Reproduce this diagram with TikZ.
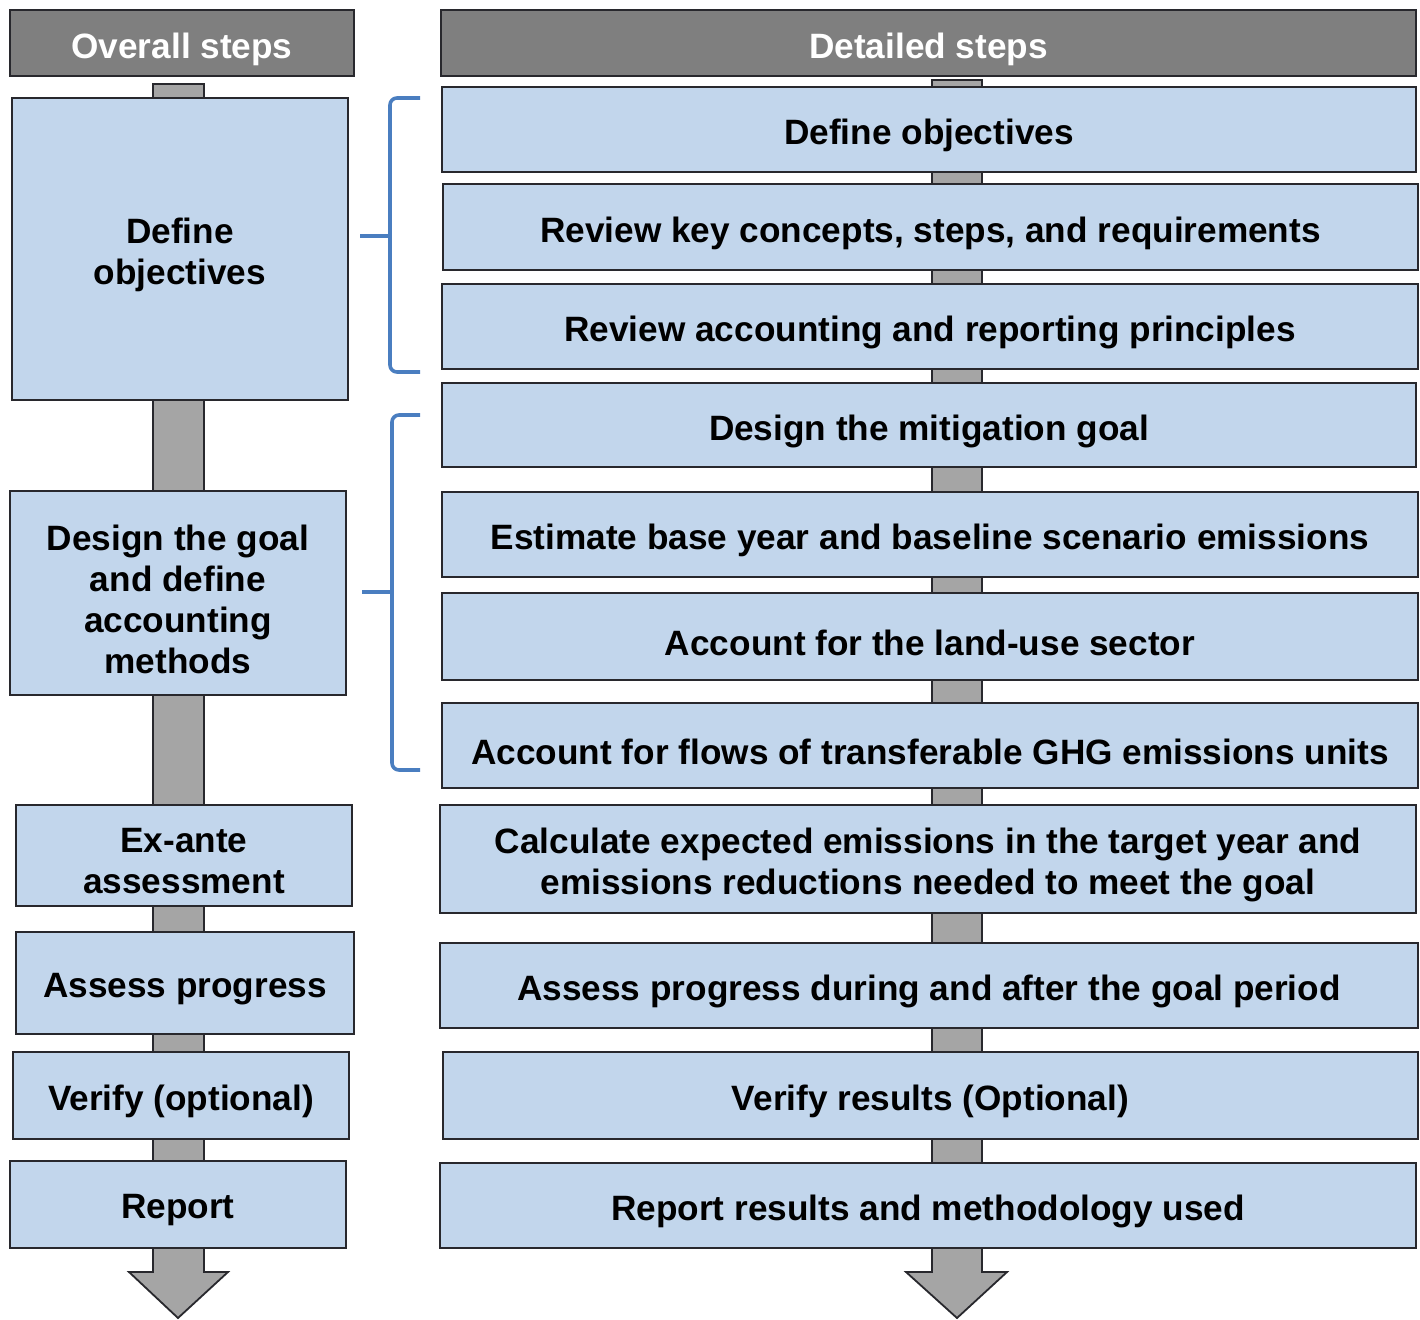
\documentclass[tikz,border=0pt]{standalone}
\usepackage{fontspec}
\setmainfont{Liberation Sans}
\definecolor{boxblue}{RGB}{194,214,236}
\definecolor{hdrgray}{RGB}{127,127,127}
\definecolor{shaftgray}{RGB}{165,165,165}
\definecolor{bracecol}{RGB}{74,126,192}
\definecolor{edgecol}{RGB}{40,40,45}
\newcommand\mybox[8]{%
  \pgfmathsetmacro\mybw{#5-#3}%
  \pgfmathsetmacro\mybh{#6-#4}%
  \pgfmathsetmacro\mycx{(#3+#5)/2}%
  \pgfmathsetmacro\mycy{(#4+#6)/2}%
  \node[#1, minimum width=\mybw pt, minimum height=\mybh pt,
    label={[#2txt, yshift=-6pt]center:{#8}}] (#7) at (\mycx,\mycy) {};}
\tikzset{
  basebox/.style={rectangle, draw=edgecol, line width=2.6pt, inner sep=0pt},
  basetxt/.style={inner sep=0pt, align=center, font=\bfseries\fontsize{35.2}{41}\selectfont},
  stepbox/.style={basebox, fill=boxblue},
  steptxt/.style={basetxt, text=black},
  hdrbox/.style={basebox, fill=hdrgray},
  hdrtxt/.style={basetxt, text=white},
  shaft/.style={fill=shaftgray, draw=edgecol, line width=1.8pt, line join=miter},
  bracket/.style={draw=bracecol, line width=3.6pt, rounded corners=7pt}
}
\begin{document}
\begin{tikzpicture}[x=1pt,y=-1pt]
\useasboundingbox (0,0) rectangle (1420,1319);
\fill[white] (0,0) rectangle (1420,1319);
% connector arrows (behind boxes)
\coordinate (lA) at (153,84);
\coordinate (lB) at (204,84);
\coordinate (lTip) at (178,1318);
\draw[shaft] (lA) -- (153,1272) -- (129,1272) -- (lTip) -- (228,1272) -- (204,1272) -- (lB) -- cycle;
\coordinate (rA) at (932,80);
\coordinate (rB) at (982,80);
\coordinate (rTip) at (957,1318);
\draw[shaft] (rA) -- (932,1272) -- (906,1272) -- (rTip) -- (1007,1272) -- (982,1272) -- (rB) -- cycle;
% headers
\mybox{hdrbox}{hdr}{10}{10}{354}{76}{lh}{Overall steps}
\mybox{hdrbox}{hdr}{441}{10}{1416}{76}{rh}{Detailed steps}
% left column
\mybox{stepbox}{step}{12}{98}{348}{400}{L1}{Define\\objectives}
\mybox{stepbox}{step}{10}{491}{346}{695}{L2}{Design the goal\\and define\\accounting\\methods}
\mybox{stepbox}{step}{16}{805}{352}{906}{L3}{Ex-ante\\assessment}
\mybox{stepbox}{step}{16}{932}{354}{1034}{L4}{Assess progress}
\mybox{stepbox}{step}{13}{1052}{349}{1139}{L5}{Verify (optional)}
\mybox{stepbox}{step}{10}{1161}{346}{1248}{L6}{Report}
% right column
\mybox{stepbox}{step}{442}{87}{1416}{172}{R1}{Define objectives}
\mybox{stepbox}{step}{443}{184}{1418}{270}{R2}{Review key concepts, steps, and requirements}
\mybox{stepbox}{step}{442}{284}{1418}{369}{R3}{Review accounting and reporting principles}
\mybox{stepbox}{step}{442}{383}{1416}{467}{R4}{Design the mitigation goal}
\mybox{stepbox}{step}{442}{492}{1418}{577}{R5}{Estimate base year and baseline scenario emissions}
\mybox{stepbox}{step}{442}{593}{1418}{680}{R6}{Account for the land-use sector}
\mybox{stepbox}{step}{442}{703}{1418}{788}{R7}{Account for flows of transferable GHG emissions units}
\mybox{stepbox}{step}{440}{805}{1416}{913}{R8}{Calculate expected emissions in the target year and\\emissions reductions needed to meet the goal}
\mybox{stepbox}{step}{440}{943}{1418}{1028}{R9}{Assess progress during and after the goal period}
\mybox{stepbox}{step}{443}{1052}{1418}{1139}{R10}{Verify results (Optional)}
\mybox{stepbox}{step}{440}{1163}{1416}{1248}{R11}{Report results and methodology used}
% brackets
\draw[bracket] (420,98) -- (390,98) -- (390,372) -- (420,372);
\draw[draw=bracecol, line width=3.6pt] (360,236) -- (390,236);
\draw[bracket] (420,415) -- (392,415) -- (392,770) -- (420,770);
\draw[draw=bracecol, line width=3.6pt] (362,592) -- (392,592);
\end{tikzpicture}
\end{document}
